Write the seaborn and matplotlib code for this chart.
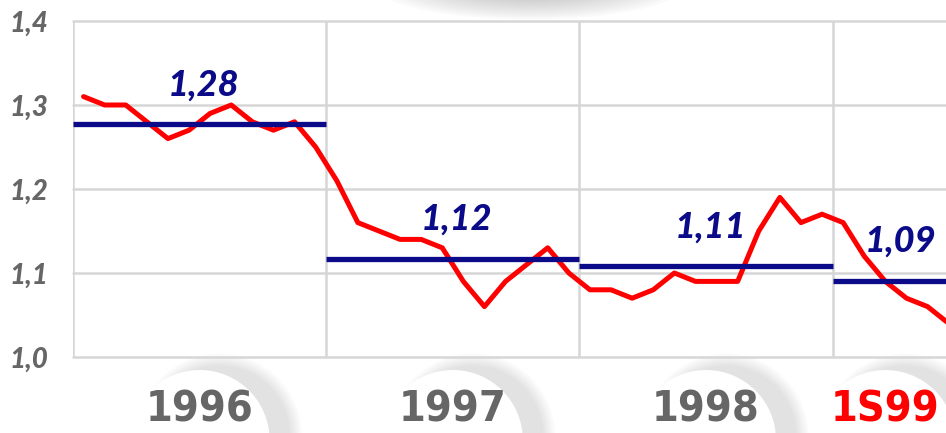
import os
import numpy as np
import pandas as pd
import matplotlib.pyplot as plt
import seaborn as sns
from matplotlib import font_manager as fm
from matplotlib.patches import Ellipse
from matplotlib.transforms import blended_transform_factory

# monthly values
rate_1996 = [1.31, 1.30, 1.30, 1.28, 1.26, 1.27, 1.29, 1.30, 1.28, 1.27, 1.28, 1.25]
rate_1997 = [1.21, 1.16, 1.15, 1.14, 1.14, 1.13, 1.09, 1.06, 1.09, 1.11, 1.13, 1.10]
rate_1998 = [1.08, 1.08, 1.07, 1.08, 1.10, 1.09, 1.09, 1.09, 1.15, 1.19, 1.16, 1.17]
rate_1999 = [1.16, 1.12, 1.09, 1.07, 1.06, 1.04]

periods = ['1996', '1997', '1998', '1S99']
period_months = [12, 12, 12, 6]
averages = [1.277, 1.117, 1.108, 1.091]
avg_labels = ['1,28', '1,12', '1,11', '1,09']
y_ticks = [1.0, 1.1, 1.2, 1.3, 1.4]
y_labels = ['1,0', '1,1', '1,2', '1,3', '1,4']

values = rate_1996 + rate_1997 + rate_1998 + rate_1999
df = pd.DataFrame({'month': np.arange(len(values)) + 0.5, 'rate': values})
starts = np.concatenate([[0], np.cumsum(period_months)[:-1]])
ends = np.cumsum(period_months)

sns.set_style('white')
plt.rcParams['font.family'] = ['Lato', 'DejaVu Sans']

# look for a narrow bold face for the year labels
year_font = None
for f in sorted(fm.fontManager.ttflist, key=lambda f: f.fname):
    base = os.path.basename(f.fname).lower()
    if ('condensed' in base or 'narrow' in base) and 'bold' in base \
            and 'italic' not in base and 'semi' not in base and 'oblique' not in base:
        year_font = fm.FontProperties(fname=f.fname, size=31)
        break
if year_font is None:
    year_font = fm.FontProperties(family='Liberation Sans', weight='bold', size=30)

W, H = 946, 433
fig = plt.figure(figsize=(W / 100, H / 100), dpi=100)

# decorative shadows in pixel space
bg = fig.add_axes([0, 0, 1, 1], zorder=0)
bg.set_xlim(0, W)
bg.set_ylim(H, 0)
bg.axis('off')
for r in np.linspace(1, 0.15, 18):
    bg.add_patch(Ellipse((530, -18), 320 * r, 75 * r, fc='#808080', alpha=0.035, lw=0))

gray = '#666666'
navy = '#0b0b8a'
grid_c = '#d6d6d6'

ax = fig.add_axes([73 / W, (H - 357) / H, 1 - 73 / W, 336 / H], zorder=1)
ax.patch.set_alpha(0)

for s in starts:
    ax.axvline(s, color=grid_c, lw=1.8, zorder=0)
ax.set_yticks(y_ticks)
ax.set_yticklabels(y_labels, fontsize=20, fontweight='black', fontstyle='italic', color=gray)
ax.yaxis.grid(True, color=grid_c, lw=1.8)
for gl in ax.get_ygridlines():
    gl.set_clip_on(False)
ax.tick_params(axis='y', length=8, width=1.8, color=grid_c, pad=10)
ax.set_xticks([])
for sp in ax.spines.values():
    sp.set_visible(False)

sns.lineplot(data=df, x='month', y='rate', color='#ff0000', lw=3.6, ax=ax, zorder=3)
ax.hlines(averages, starts, ends, colors=navy, lw=3.8, zorder=4)
for s, e, a, lab in zip(starts, ends, averages, avg_labels):
    ax.text((s + e) / 2 + 0.2, a + 0.047, lab, ha='center', va='center', fontsize=26,
            fontweight='black', fontstyle='italic', color=navy, zorder=5)

ax.set_xlim(0, (W - 73) / 21.1)
ax.set_ylim(1.0, 1.4)
ax.set_xlabel('')
ax.set_ylabel('')

# year labels with white discs
trans = blended_transform_factory(ax.transData, fig.transFigure)
for s, e, p in zip(starts, ends, periods):
    cx_data = (s + e) / 2 - (0.5 if p == '1S99' else 0)
    cx = ax.transData.transform((cx_data, 1.0))[0]
    for r in np.linspace(1.18, 1.0, 10):
        bg.add_patch(Ellipse((cx + 20, 436), 140 * r, 140 * r, fc='#909090', alpha=0.025, lw=0))
    bg.add_patch(Ellipse((cx, 440), 140, 140, fc='white', lw=0))
    fig.text(cx_data, (H - 422) / H, p, transform=trans, ha='center', va='baseline',
             fontproperties=year_font, color='#ff0000' if p == '1S99' else gray, zorder=3)

fig.savefig('out.png', dpi=100)
